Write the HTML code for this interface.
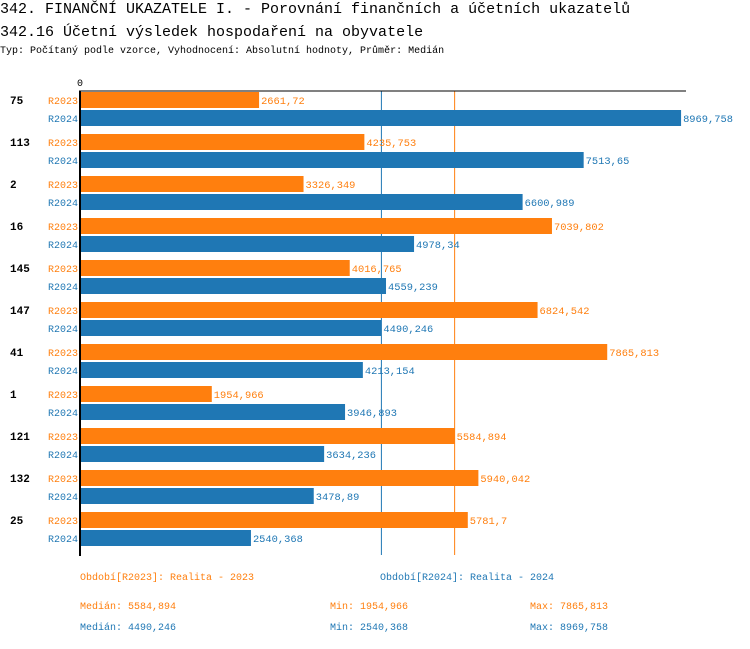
<!DOCTYPE html>
<html><head><meta charset="utf-8"><style>
body{margin:0;background:#fff;width:750px;height:644px;overflow:hidden;font-family:"Liberation Mono",monospace}
svg text{font-family:"Liberation Mono",monospace}
</style></head><body>
<svg id="c" width="750" height="644">
<text x="0" y="13" font-size="15">342. FINANČNÍ UKAZATELE I. - Porovnání finančních a účetních ukazatelů</text>
<text x="0" y="36" font-size="15">342.16 Účetní výsledek hospodaření na obyvatele</text>
<text x="0" y="53" font-size="10">Typ: Počítaný podle vzorce, Vyhodnocení: Absolutní hodnoty, Průměr: Medián</text>
<g id="bars"></g>
<text x="80" y="609" font-size="10" fill="#ff7f0e">Medián: 5584,894</text>
<text x="330" y="609" font-size="10" fill="#ff7f0e">Min: 1954,966</text>
<text x="530" y="609" font-size="10" fill="#ff7f0e">Max: 7865,813</text>
<text x="80" y="630" font-size="10" fill="#1f77b4">Medián: 4490,246</text>
<text x="330" y="630" font-size="10" fill="#1f77b4">Min: 2540,368</text>
<text x="530" y="630" font-size="10" fill="#1f77b4">Max: 8969,758</text>
<text x="80" y="580" font-size="10" fill="#ff7f0e">Období[R2023]: Realita - 2023</text>
<text x="380" y="580" font-size="10" fill="#1f77b4">Období[R2024]: Realita - 2024</text>
</svg>
<script>
const categories=["75","113","2","16","145","147","41","1","121","132","25"];
const values2023=[2661.72,4235.753,3326.349,7039.802,4016.765,6824.542,7865.813,1954.966,5584.894,5940.042,5781.7];
const values2024=[8969.758,7513.65,6600.989,4978.34,4559.239,4490.246,4213.154,3946.893,3634.236,3478.89,2540.368];
const medians=[5584.894,4490.246];
const NS="http://www.w3.org/2000/svg";
const g=document.getElementById('bars');
const x0=81,k=0.0669,top0=92,step=42,bh=16;
const xs=v=>x0+v*k;
function el(t,a){const e=document.createElementNS(NS,t);for(const n in a)e.setAttribute(n,a[n]);g.appendChild(e);return e;}
const fmt=v=>String(v).replace('.',',');
const cols=["#ff7f0e","#1f77b4"];
medians.forEach((m,j)=>{
  const l=el('line',{x1:xs(m),x2:xs(m),y1:91,y2:555,stroke:cols[j],'stroke-width':1});
  
  
});
categories.forEach((c,i)=>{
  const y=top0+i*step;
  const t=el('text',{x:10,y:y+12,'font-size':11,'font-weight':'bold'});t.textContent=c;
  
  
  [values2023[i],values2024[i]].forEach((v,j)=>{
    const yy=y+j*18;
    const r=el('rect',{x:x0,y:yy,width:v*k,height:bh,fill:cols[j]});
    
    
    const l=el('text',{x:78,y:yy+12,'font-size':10,fill:cols[j],'text-anchor':'end'});l.textContent=j?'R2024':'R2023';
    
    
    const vl=el('text',{x:xs(v)+2,y:yy+12,'font-size':10.4,fill:cols[j]});vl.textContent=fmt(v);
    
    
  });
});
const ax=el('line',{x1:80,x2:80,y1:91,y2:556,stroke:'#000','stroke-width':2});


const tx=el('line',{x1:79,x2:686,y1:91,y2:91,stroke:'#000','stroke-width':1});


const z=el('text',{x:80,y:86,'font-size':10,'text-anchor':'middle'});z.textContent='0';


</script>
</body></html>
